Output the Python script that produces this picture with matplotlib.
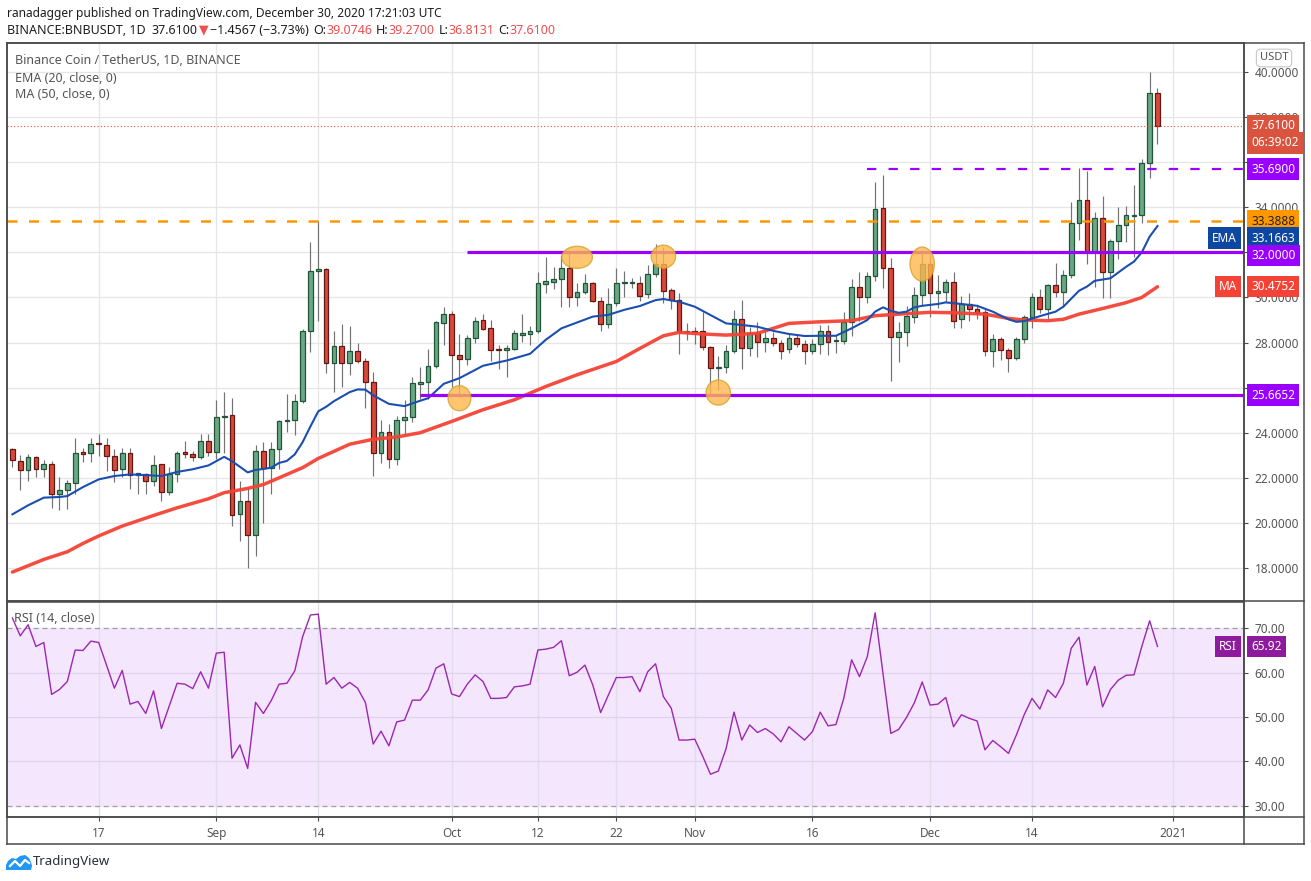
import numpy as np
import pandas as pd
import matplotlib
matplotlib.use("Agg")
import matplotlib.pyplot as plt
import matplotlib.dates as mdates
import matplotlib.transforms as mtransforms
from matplotlib.patches import Ellipse, Polygon
from matplotlib.lines import Line2D

plt.rcParams['font.family'] = ['Noto Sans', 'DejaVu Sans']

# daily candles, 2020-08-06 .. 2020-12-30
first_day = "2020-08-06"
opens = [23.29, 22.76, 22.33, 22.94, 22.40, 22.63, 21.30, 21.47, 21.78, 23.13,
         23.12, 23.53, 23.47, 22.98, 22.40, 23.12, 22.11, 22.18, 21.86, 22.63,
         21.37, 22.18, 23.13, 23.07, 22.94, 23.65, 23.16, 24.71, 24.77, 20.39,
         20.99, 19.48, 23.17, 22.45, 23.29, 24.51, 24.58, 25.39, 28.49, 31.17,
         31.25, 27.08, 27.85, 27.08, 27.63, 27.17, 26.27, 23.10, 24.03, 22.83,
         24.55, 24.69, 26.16, 26.24, 26.98, 28.86, 29.25, 27.44, 27.29, 28.19,
         28.99, 28.63, 27.69, 27.65, 27.70, 28.35, 28.40, 28.49, 30.61, 30.70,
         30.80, 31.29, 30.04, 30.23, 30.63, 29.86, 28.81, 29.74, 30.63, 30.63,
         30.63, 30.14, 31.02, 31.47, 30.33, 29.88, 28.47, 28.50, 28.52, 27.78,
         26.85, 26.93, 27.64, 29.03, 27.74, 28.41, 28.04, 28.18, 27.96, 27.70,
         28.18, 27.93, 27.64, 27.92, 28.52, 28.06, 28.08, 28.92, 30.48, 30.00,
         30.96, 33.95, 31.29, 28.23, 28.45, 29.12, 30.11, 31.47, 30.18, 30.25,
         30.67, 29.03, 29.69, 29.47, 29.34, 27.64, 28.14, 27.65, 27.33, 28.14,
         29.15, 30.00, 29.47, 30.54, 30.22, 30.98, 33.29, 34.31, 32.03, 33.51,
         31.14, 32.49, 33.20, 33.62, 33.64, 35.95, 39.0746]
highs = [23.34, 23.00, 23.04, 22.96, 22.78, 22.75, 22.02, 21.89, 23.78, 23.34,
         23.78, 23.93, 23.78, 23.26, 23.31, 23.34, 22.23, 22.23, 23.00, 22.63,
         22.49, 23.19, 23.63, 23.19, 23.93, 23.93, 25.44, 25.82, 25.56, 21.86,
         21.56, 23.44, 23.59, 23.59, 24.55, 25.70, 25.70, 28.60, 32.44, 33.39,
         31.30, 28.49, 28.83, 28.74, 27.97, 27.31, 26.69, 24.58, 24.40, 24.72,
         25.46, 26.49, 26.91, 27.72, 28.97, 29.59, 29.40, 28.38, 28.34, 29.12,
         29.27, 29.00, 27.87, 27.87, 28.56, 29.27, 28.74, 31.11, 31.81, 31.37,
         31.88, 32.00, 30.63, 31.04, 30.67, 30.04, 30.41, 31.29, 31.19, 30.85,
         30.95, 31.44, 32.37, 32.22, 30.43, 30.21, 28.85, 28.67, 29.37, 27.84,
         27.40, 27.89, 29.44, 29.88, 28.70, 28.92, 28.63, 28.48, 28.11, 28.38,
         28.33, 28.11, 28.14, 28.78, 28.78, 28.33, 29.37, 30.82, 31.11, 31.14,
         35.14, 35.43, 31.73, 28.92, 29.63, 30.48, 32.03, 31.88, 30.99, 30.80,
         31.11, 30.06, 30.18, 29.66, 29.51, 28.38, 28.26, 27.74, 28.26, 29.22,
         30.21, 30.36, 30.60, 31.54, 31.22, 34.25, 35.73, 35.61, 33.80, 34.50,
         32.60, 34.03, 34.06, 34.99, 36.13, 39.99, 39.27]
lows = [22.48, 21.46, 21.86, 22.04, 22.04, 20.67, 20.57, 20.63, 21.27, 22.70,
        22.70, 22.97, 22.30, 21.81, 22.04, 21.49, 21.27, 21.27, 21.64, 20.97,
        21.24, 21.81, 22.89, 22.75, 22.85, 22.97, 22.82, 23.12, 19.86, 19.19,
        18.01, 18.53, 20.00, 21.27, 22.40, 24.05, 23.90, 25.30, 27.60, 28.97,
        26.67, 25.79, 26.01, 26.54, 27.08, 25.09, 22.07, 22.66, 22.44, 22.55,
        23.91, 24.47, 25.50, 25.50, 26.86, 27.87, 26.05, 25.67, 27.01, 27.97,
        28.55, 27.20, 26.82, 26.49, 27.67, 28.04, 27.90, 28.41, 30.18, 30.36,
        29.56, 29.56, 29.64, 30.14, 29.80, 28.49, 28.63, 29.64, 30.04, 30.40,
        29.86, 29.96, 30.92, 29.77, 29.47, 27.47, 28.11, 27.93, 27.67, 25.67,
        25.89, 26.63, 27.55, 26.81, 27.40, 27.34, 27.59, 27.84, 27.27, 27.52,
        27.82, 27.03, 27.50, 27.47, 27.44, 27.55, 27.92, 28.30, 28.97, 29.77,
        30.74, 30.40, 26.30, 27.15, 27.86, 28.85, 29.66, 29.14, 29.51, 29.81,
        28.63, 28.63, 28.97, 29.03, 27.40, 26.90, 27.22, 26.70, 27.22, 27.96,
        28.63, 29.29, 29.03, 30.03, 29.59, 30.85, 32.55, 31.48, 30.45, 29.96,
        29.96, 31.69, 32.47, 31.81, 33.29, 35.28, 36.8131]
closes = [22.78, 22.33, 22.94, 22.40, 22.63, 21.30, 21.47, 21.78, 23.12, 23.07,
          23.51, 23.50, 22.98, 22.36, 23.12, 22.11, 22.21, 21.86, 22.58, 21.37,
          22.18, 23.12, 23.07, 22.94, 23.65, 23.16, 24.71, 24.76, 20.36, 20.99,
          19.48, 23.17, 22.45, 23.29, 24.51, 24.54, 25.42, 28.49, 31.17, 31.25,
          27.08, 27.85, 27.08, 27.63, 27.16, 26.27, 23.10, 24.03, 22.83, 24.58,
          24.69, 26.20, 26.24, 26.97, 28.90, 29.25, 27.44, 27.29, 28.19, 28.94,
          28.59, 27.66, 27.66, 27.75, 28.41, 28.41, 28.49, 30.63, 30.73, 30.80,
          31.29, 30.04, 30.23, 30.63, 29.86, 28.81, 29.70, 30.63, 30.65, 30.64,
          30.08, 31.02, 31.47, 30.30, 29.88, 28.45, 28.50, 28.47, 27.78, 26.85,
          26.93, 27.64, 29.03, 27.74, 28.41, 28.04, 28.18, 27.99, 27.64, 28.18,
          27.92, 27.64, 27.93, 28.52, 28.04, 28.10, 28.92, 30.48, 30.00, 30.96,
          33.91, 31.29, 28.23, 28.45, 29.17, 30.11, 31.47, 30.18, 30.28, 30.67,
          28.97, 29.69, 29.47, 29.32, 27.64, 28.14, 27.65, 27.33, 28.14, 29.12,
          30.00, 29.47, 30.54, 30.22, 30.98, 33.29, 34.31, 32.03, 33.51, 31.14,
          32.49, 33.20, 33.64, 33.66, 35.95, 39.06, 37.61]

# EMA(20) and MA(50) at these candle numbers
ema_at = [0, 2, 4, 6, 7, 9, 11, 13, 15, 17, 19, 21, 23, 25, 27, 28, 29, 30, 31, 32,
          33, 34, 35, 36, 37, 38, 39, 40, 41, 43, 44, 45, 46, 48, 50, 52, 53, 55, 57, 60,
          63, 66, 68, 70, 72, 74, 76, 78, 80, 82, 83, 85, 87, 89, 91, 93, 95, 97, 99, 101,
          103, 105, 107, 109, 110, 111, 112, 113, 114, 115, 116, 118, 119, 121, 123, 125,
          127, 128, 129, 131, 133, 134, 136, 137, 138, 140, 142, 143, 144, 145, 146]
ema_val = [20.38, 20.78, 21.12, 21.15, 21.19, 21.59, 21.93, 22.08, 22.15, 22.12,
           22.08, 22.26, 22.38, 22.55, 22.93, 22.74, 22.49, 22.24, 22.35, 22.39,
           22.45, 22.66, 22.75, 23.04, 23.58, 24.28, 24.95, 25.15, 25.40, 25.80,
           25.92, 25.91, 25.66, 25.28, 25.18, 25.42, 25.53, 26.17, 26.42, 26.97,
           27.20, 27.50, 28.12, 28.63, 28.89, 29.15, 29.23, 29.45, 29.62, 29.88,
           29.93, 29.81, 29.59, 29.22, 28.85, 28.78, 28.70, 28.52, 28.38, 28.29,
           28.30, 28.30, 28.63, 29.00, 29.37, 29.56, 29.41, 29.32, 29.37, 29.56,
           29.63, 29.71, 29.78, 29.71, 29.63, 29.37, 29.03, 28.92, 28.95, 29.17,
           29.37, 29.59, 30.30, 30.48, 30.74, 30.85, 31.36, 31.59, 32.00, 32.70,
           33.1663]
ma_at = [0, 4, 7, 9, 11, 14, 18, 21, 25, 27, 30, 32, 35, 37, 39, 43, 46, 49, 52, 56,
         60, 64, 68, 72, 77, 80, 83, 85, 88, 91, 95, 99, 103, 107, 110, 113, 117, 120,
         124, 127, 129, 132, 134, 136, 139, 142, 144, 146]
ma_val = [17.82, 18.38, 18.72, 19.09, 19.42, 19.86, 20.33, 20.67, 21.07, 21.34,
          21.53, 21.70, 22.15, 22.45, 22.86, 23.49, 23.71, 23.81, 24.00, 24.50,
          25.02, 25.46, 26.05, 26.57, 27.16, 27.74, 28.30, 28.45, 28.38, 28.33,
          28.41, 28.85, 28.92, 28.97, 29.19, 29.26, 29.34, 29.32, 29.26, 29.07,
          29.00, 28.97, 29.03, 29.26, 29.51, 29.77, 30.00, 30.4752]

rsi = [72.3, 68.3, 70.8, 65.9, 66.8, 55.1, 56.2, 58.0, 65.1, 65.0,
       67.1, 66.8, 61.7, 56.5, 60.5, 52.9, 53.5, 50.8, 55.9, 47.4,
       52.5, 57.6, 57.4, 56.4, 60.2, 56.5, 64.4, 64.6, 40.7, 43.7,
       38.4, 53.3, 50.8, 53.7, 57.4, 57.6, 60.4, 68.1, 73.0, 73.2,
       57.4, 58.9, 56.5, 57.8, 56.5, 53.3, 43.9, 46.8, 43.5, 48.9,
       49.3, 53.8, 53.8, 56.1, 61.0, 62.0, 55.2, 54.6, 57.4, 59.5,
       58.0, 54.2, 54.2, 54.4, 56.8, 57.0, 57.4, 65.1, 65.3, 65.7,
       67.2, 59.3, 60.1, 61.7, 57.2, 51.0, 55.0, 58.9, 58.9, 59.1,
       55.7, 60.2, 62.0, 54.6, 52.0, 44.8, 44.8, 45.0, 41.2, 37.1,
       37.8, 42.9, 51.1, 44.8, 48.2, 46.5, 47.4, 46.2, 44.4, 47.8,
       46.3, 44.8, 46.7, 51.1, 48.0, 48.3, 54.2, 62.9, 59.1, 63.6,
       73.5, 59.8, 46.3, 47.2, 49.9, 53.2, 57.9, 52.7, 52.9, 54.4,
       47.8, 50.5, 49.7, 49.1, 42.6, 44.7, 43.3, 41.8, 45.9, 50.5,
       54.2, 51.8, 56.1, 54.4, 57.6, 65.5, 68.0, 57.2, 61.4, 52.3,
       56.2, 58.3, 59.4, 59.5, 65.9, 71.7, 65.92]

# drawn levels: (price, first date)
level_resist = (35.69, "2020-11-23")
level_orange = 33.3888
level_top = (32.0, "2020-10-03")
level_bottom = (25.6652, "2020-09-27")
last_price = 37.61
# highlighted touches: (date, price, width days, height)
circles = [("2020-10-17", 31.78, 3.9, 0.98), ("2020-10-02", 25.53, 2.9, 1.11),
           ("2020-10-28", 31.81, 3.1, 1.02), ("2020-11-04", 25.78, 3.1, 1.11),
           ("2020-11-30", 31.48, 3.1, 1.51)]

tick_days = ["2020-08-17", "2020-09-01", "2020-09-14", "2020-10-01", "2020-10-12",
             "2020-10-22", "2020-11-01", "2020-11-16", "2020-12-01", "2020-12-14",
             "2021-01-01"]
tick_names = ["17", "Sep", "14", "Oct", "12", "22", "Nov", "16", "Dec", "14", "2021"]

W, H = 1311, 881
fig = plt.figure(figsize=(W / 100, H / 100), dpi=100)
fig.patch.set_facecolor("white")


def box(x0, y0, x1, y1):
    return [x0 / W, 1 - y1 / H, (x1 - x0) / W, (y1 - y0) / H]


ax = fig.add_axes(box(7, 43, 1244, 601))
axr = fig.add_axes(box(7, 602, 1244, 817))

dates = pd.date_range(first_day, periods=len(closes), freq="D")
x = mdates.date2num(dates)
o, h, l, c = map(np.array, (opens, highs, lows, closes))
x0 = x[0] - 0.69
x1 = x[0] + 157.03
ticks_x = mdates.date2num(pd.to_datetime(tick_days))

grid_c = "#e6e6e6"
frame_c = "#4a4a4a"
txt_c = "#555555"

# ---- price pane
ax.set_xlim(x0, x1)
ax.set_ylim(16.536, 41.286)
ax.set_xticks(ticks_x)
ax.tick_params(axis="x", length=0, labelbottom=False)
ax.yaxis.tick_right()
ax.set_yticks(np.arange(18, 41, 2))
ax.yaxis.set_major_formatter(matplotlib.ticker.FormatStrFormatter("%.4f"))
ax.tick_params(axis="y", length=3, width=0.8, color=frame_c, labelsize=8.5,
               labelcolor=txt_c, pad=4.5)
ax.grid(True, color=grid_c, lw=0.9)
ax.set_axisbelow(True)
for s in ax.spines.values():
    s.set_color(frame_c)
    s.set_linewidth(1.1)

up = c >= o
lo = np.minimum(o, c)
hgt = np.maximum(np.abs(c - o), 0.05)
ax.vlines(x, l, h, color="#737375", lw=0.85, zorder=2)
ax.bar(x[up], hgt[up], width=0.6, bottom=lo[up], color="#6aa884",
       edgecolor="#21553a", lw=0.9, zorder=3)
ax.bar(x[~up], hgt[~up], width=0.6, bottom=lo[~up], color="#d9493b",
       edgecolor="#641812", lw=0.9, zorder=3)

ax.plot(x[ma_at], ma_val, color="#f44336", lw=2.5, alpha=0.95, zorder=4,
        solid_capstyle="round")
ax.plot(x[ema_at], ema_val, color="#1a4fb0", lw=1.5, zorder=4)

purple = "#9900ff"
ax.hlines(level_orange, x0, x1, colors="#ff9800", lw=1.8,
          linestyles=(0, (4.0, 4.6)), zorder=5)
ax.hlines(level_resist[0], mdates.datestr2num(level_resist[1]), x1, colors=purple,
          lw=1.6, linestyles=(0, (4.2, 5.5)), zorder=5)
ax.hlines(level_top[0], mdates.datestr2num(level_top[1]), x1, colors=purple,
          lw=2.3, zorder=5)
ax.hlines(level_bottom[0], mdates.datestr2num(level_bottom[1]), x1, colors=purple,
          lw=2.3, zorder=5)
ax.hlines(last_price, x0, x1, colors="#e0533e", lw=0.8, linestyles=(0, (1, 2)),
          zorder=5)

for d, p, wd, ht in circles:
    ax.add_patch(Ellipse((mdates.datestr2num(d), p), wd, ht, fc="#ffb74d",
                         ec="#d4a52a", lw=1.0, alpha=0.8, zorder=6))

ax.text(8 / 1237, 1 - 17 / 558, "Binance Coin / TetherUS, 1D, BINANCE",
        transform=ax.transAxes, fontsize=9, color=txt_c, va="center")
ax.text(8 / 1237, 1 - 35 / 558, "EMA (20, close, 0)", transform=ax.transAxes,
        fontsize=9, color=txt_c, va="center")
ax.text(8 / 1237, 1 - 51 / 558, "MA (50, close, 0)", transform=ax.transAxes,
        fontsize=9, color=txt_c, va="center")


def tag(axis, y, text, fc, tc="white", left=False, dy=0):
    tr = mtransforms.blended_transform_factory(axis.transAxes, axis.transData)
    dx = -7 if left else 7
    axis.annotate(text, xy=(1.0, y), xycoords=tr, xytext=(dx, dy),
                  textcoords="offset pixels", ha="right" if left else "left",
                  va="center", fontsize=8.5, fontweight="bold", color=tc,
                  bbox=dict(boxstyle="square,pad=0.36", fc=fc, ec="none"),
                  annotation_clip=False, zorder=10)


# scale tags are pushed apart where they would collide, as on the source chart
tag(ax, last_price, "37.6100", "#d9533f")
tag(ax, last_price, "06:39:02", "#d9533f", dy=-17)
tag(ax, level_resist[0], "35.6900", purple)
tag(ax, level_orange, "33.3888", "#ff9800", tc="#222222")
tag(ax, ema_val[-1], "33.1663", "#0d47a1", dy=-12)
tag(ax, ema_val[-1], "EMA", "#0d47a1", left=True, dy=-12)
tag(ax, level_top[0], "32.0000", purple, dy=-3)
tag(ax, ma_val[-1], "30.4752", "#f44336")
tag(ax, ma_val[-1], "MA", "#f44336", left=True)
tag(ax, level_bottom[0], "25.6652", purple)

# ---- RSI pane
axr.set_xlim(x0, x1)
axr.set_ylim(27.45, 75.93)
axr.axhspan(30, 70, color="#f3e6fd", zorder=0)
for v in (40, 50, 60):
    axr.axhline(v, color="#e0d2ec", lw=0.9, zorder=1)
for v in (30, 70):
    axr.axhline(v, color="#a0a0a0", lw=0.9, ls=(0, (4, 3)), zorder=1)
axr.set_xticks(ticks_x)
axr.set_xticklabels(tick_names)
axr.grid(True, axis="x", color="#e2dbe8", lw=0.9, zorder=1)
axr.set_axisbelow(True)
axr.tick_params(axis="x", length=3, width=0.8, color=frame_c, labelsize=8.5,
                labelcolor=txt_c, pad=4)
axr.yaxis.tick_right()
axr.set_yticks([30, 40, 50, 60, 70])
axr.yaxis.set_major_formatter(matplotlib.ticker.FormatStrFormatter("%.2f"))
axr.tick_params(axis="y", length=3, width=0.8, color=frame_c, labelsize=8.5,
                labelcolor=txt_c, pad=4.5)
for s in axr.spines.values():
    s.set_color(frame_c)
    s.set_linewidth(1.1)
axr.plot(x, rsi, color="#9c27b0", lw=1.0, zorder=3)
axr.text(7 / 1237, 1 - 16 / 215, "RSI (14, close)", transform=axr.transAxes,
         fontsize=9, color=txt_c, va="center")
tag(axr, rsi[-1], "65.92", "#8e1a9e")
tag(axr, rsi[-1], "RSI", "#8e1a9e", left=True)

# ---- outer frame of the price / time scales
for (xa, ya, xb, yb) in [(7, 844, 1304, 844), (1304, 43, 1304, 844), (7, 43, 1304, 43),
                         (1244, 43, 1244, 844), (7, 817, 1304, 817), (7, 601, 1304, 601),
                         (7, 43, 7, 844)]:
    fig.add_artist(Line2D([xa / W, xb / W], [1 - ya / H, 1 - yb / H], color=frame_c,
                          lw=1.1, transform=fig.transFigure))

fig.text(1274 / W, 1 - 58 / H, "USDT", fontsize=8, color=txt_c, ha="center",
         va="center", bbox=dict(boxstyle="round,pad=0.3,rounding_size=0.4",
                                fc="white", ec="#c8c8c8", lw=0.8))

# ---- header lines


def chain(xp, yp, parts, size):
    r = fig.canvas.get_renderer()
    for s, bold, col, gap in parts:
        t = fig.text(xp / W, 1 - yp / H, s, fontsize=size, color=col, va="center",
                     fontweight="bold" if bold else "normal")
        xp += t.get_window_extent(r).width + gap


red = "#ef4f4f"
dark = "#1e1e1e"
chain(7, 14, [("ranadagger", True, dark, 3),
              ("published on TradingView.com, December 30, 2020 17:21:03 UTC",
               False, dark, 0)], 8.6)
chain(7, 30, [("BINANCE:BNBUSDT, 1D", True, dark, 6),
              ("37.6100", False, dark, 1),
              ("\u25bc", False, red, 2),
              ("\u22121.4567 (\u22123.73%)", False, dark, 4),
              ("O:", True, dark, 0), ("39.0746", False, red, 4),
              ("H:", True, dark, 0), ("39.2700", False, red, 4),
              ("L:", True, dark, 0), ("36.8131", False, red, 4),
              ("C:", True, dark, 0), ("37.6100", False, red, 0)], 9.0)

# ---- TradingView mark
px = mtransforms.Affine2D().scale(1 / W, -1 / H).translate(0, 1) + fig.transFigure
fig.add_artist(Polygon([(6, 870), (6, 865), (8, 861), (12, 858), (16, 859), (20, 856),
                        (25, 855), (29, 858), (31, 862), (32, 866), (31, 870)],
                       closed=True, fc="#2196f3", ec="none", transform=px))
fig.add_artist(Line2D([10, 15, 20, 25, 29], [866, 861, 866, 860, 863], color="white",
                      lw=1.6, transform=px))
fig.text(33 / W, 1 - 862 / H, "TradingView", fontsize=9.5, color="#2a2e39",
         va="center")

fig.savefig("out.png", dpi=100)
